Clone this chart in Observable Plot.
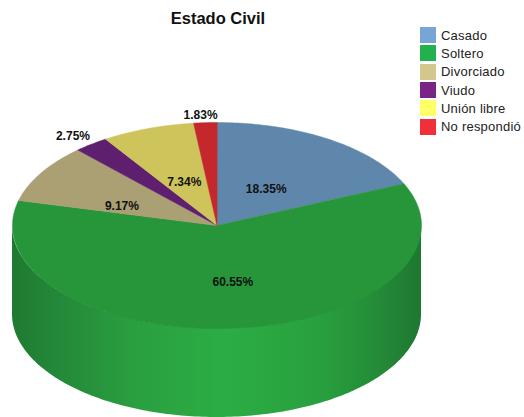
<!DOCTYPE html>
<html>
<head>
<meta charset="utf-8">
<script src="https://cdn.jsdelivr.net/npm/d3@7"></script>
<script src="https://cdn.jsdelivr.net/npm/@observablehq/plot@0.6"></script>
<style>
html,body{margin:0;padding:0;background:#fff;}
#wrap{position:relative;width:524px;height:417px;overflow:hidden;font-family:"Liberation Sans",Arial,sans-serif;}
#title{height:30px;width:436px;text-align:center;font-weight:bold;font-size:16.5px;line-height:16px;padding-top:10px;box-sizing:border-box;color:#111;}
#legend{position:absolute;left:420px;top:26px;font-size:13px;letter-spacing:.22px;color:#222;}
.row{display:flex;align-items:center;height:18.3px;white-space:nowrap;}
.sw{width:16px;height:16px;margin-right:5px;flex:none;}
svg{display:block;}
</style>
</head>
<body>
<div id="wrap">
<div id="title"></div>
<div id="chart"></div>
<div id="legend"></div>
</div>
<script>
const chartTitle = "Estado Civil";
const categories = ["Casado", "Soltero", "Divorciado", "Viudo", "Unión libre", "No respondió"];
const shares = [18.35, 60.55, 9.17, 2.75, 7.34, 1.83];
const sliceColors = ["#5f87ab", "#27953a", "#ab9f74", "#5e1f6e", "#cdc45c", "#c4282c"];
const legendColors = ["#76a5d6", "#22b14c", "#d4c78d", "#7a2586", "#ffff66", "#f03038"];
const labelRadius = [0.43, 0.56, 0.50, 1.12, 0.45, 1.07];
const labelTurn = [1, -3, -9, -1, -1, -1];

const sideDrop = 0.864;
const rad = d => d * Math.PI / 180;
const total = d3.sum(shares);
const sweep = d3.cumsum(shares).map(v => v / total * 360);

const sliceRows = categories.flatMap((category, i) => {
  const a0 = i ? sweep[i - 1] : 0, a1 = sweep[i];
  return [
    {category, x: 0, y: 0},
    ...d3.range(a0, a1, 1).concat(a1).map(a => ({category, x: Math.sin(rad(a)), y: Math.cos(rad(a))}))
  ];
});
const sideRows = d3.range(90, 270.5, 1).map(a => ({
  x: Math.sin(rad(a)),
  y1: Math.cos(rad(a)),
  y2: Math.cos(rad(a)) - sideDrop
}));
const labelRows = categories.map((category, i) => {
  const mid = (sweep[i] + (i ? sweep[i - 1] : 0)) / 2 + labelTurn[i];
  return {
    category,
    text: shares[i].toFixed(2) + "%",
    x: Math.sin(rad(mid)) * labelRadius[i],
    y: Math.cos(rad(mid)) * labelRadius[i]
  };
});

function sideGradient() {
  const ns = "http://www.w3.org/2000/svg";
  const defs = document.createElementNS(ns, "defs");
  const g = document.createElementNS(ns, "linearGradient");
  g.setAttribute("id", "sideShade");
  [[0, "#1f7a30"], [0.12, "#24893a"], [0.3, "#2a9f40"], [0.52, "#2cad44"], [0.75, "#28a03e"], [0.9, "#248a38"], [1, "#1e7730"]]
    .forEach(([o, c]) => {
      const s = document.createElementNS(ns, "stop");
      s.setAttribute("offset", o);
      s.setAttribute("stop-color", c);
      g.appendChild(s);
    });
  defs.appendChild(g);
  return defs;
}

const plot = Plot.plot({
  width: 524,
  height: 387,
  margin: 0,
  x: {domain: [-1, 1], range: [12, 421], axis: null},
  y: {domain: [-1, 1], range: [298, 92], axis: null},
  color: {domain: categories, range: sliceColors},
  marks: [
    sideGradient,
    Plot.areaY(sideRows, {x: "x", y1: "y1", y2: "y2", fill: "url(#sideShade)"}),
    Plot.line(sliceRows, {x: "x", y: "y", z: "category", fill: "category", stroke: "category", strokeWidth: 0.5, curve: "linear-closed"}),
    Plot.text(labelRows, {x: "x", y: "y", text: "text", fontWeight: "bold", fontSize: 12, fill: "#111", fontFamily: "Liberation Sans, Arial, sans-serif"})
  ]
});
document.getElementById("chart").appendChild(plot);
document.getElementById("title").textContent = chartTitle;
const legend = document.getElementById("legend");
categories.forEach((c, i) => {
  const row = document.createElement("div");
  row.className = "row";
  const sw = document.createElement("div");
  sw.className = "sw";
  sw.style.background = legendColors[i];
  const t = document.createElement("span");
  t.textContent = c;
  row.append(sw, t);
  legend.appendChild(row);
});
</script>
</body>
</html>
